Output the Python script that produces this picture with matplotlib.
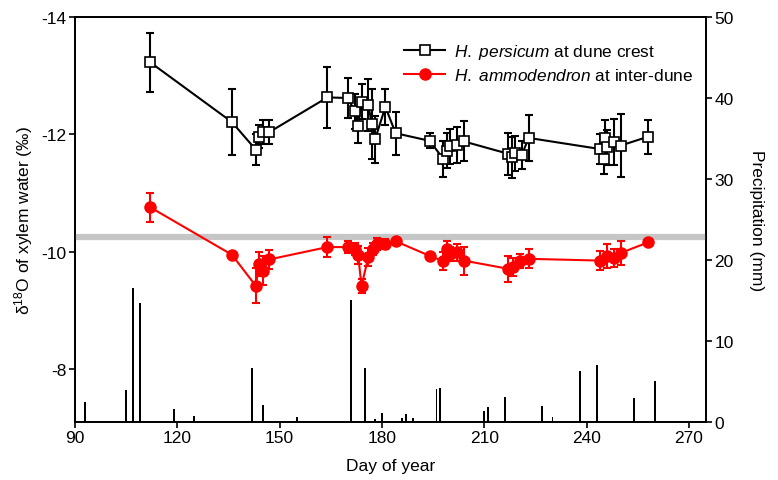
import matplotlib
matplotlib.use("Agg")
import matplotlib.pyplot as plt
import numpy as np

plt.rcParams['font.family'] = ['Liberation Sans', 'DejaVu Sans']
plt.rcParams['mathtext.fontset'] = 'custom'
plt.rcParams['mathtext.rm'] = 'Liberation Sans'
plt.rcParams['mathtext.it'] = 'Liberation Sans:italic'
plt.rcParams['mathtext.bf'] = 'Liberation Sans:bold'

# H. persicum at dune crest
hp_day = [112, 136, 143, 144, 145, 147, 164, 170, 172, 173, 174, 176, 177, 178,
          181, 184, 194, 198, 199, 200, 202, 204, 217, 218, 219, 221, 223,
          244, 245, 245.5, 246, 248, 250, 258]
hp_d18o = [-13.23, -12.21, -11.74, -11.96, -12.04, -12.04, -12.63, -12.62, -12.39, -12.15,
           -12.56, -12.50, -12.18, -11.92, -12.47, -12.02, -11.89, -11.58, -11.72, -11.80,
           -11.82, -11.88, -11.67, -11.61, -11.68, -11.65, -11.94, -11.75, -11.58, -11.94,
           -11.78, -11.87, -11.81, -11.96]
hp_err = [0.50, 0.56, 0.26, 0.2, 0.2, 0.2, 0.52, 0.34, 0.3, 0.3, 0.3, 0.45, 0.6, 0.4,
          0.31, 0.37, 0.13, 0.3, 0.3, 0.3, 0.3, 0.34, 0.36, 0.35, 0.3, 0.24, 0.39,
          0.26, 0.25, 0.3, 0.3, 0.39, 0.53, 0.29]

# H. ammodendron at inter-dune
ha_day = [112, 136, 143, 144, 145, 147, 164, 170, 172, 173, 174, 176, 177.5, 178.5,
          181, 184, 194, 198, 199, 200, 202, 204, 217, 218.5, 220.5, 223,
          244, 246, 248, 250, 258]
ha_d18o = [-10.76, -9.95, -9.42, -9.79, -9.68, -9.87, -10.08, -10.08, -10.05, -9.95,
           -9.42, -9.91, -10.05, -10.13, -10.13, -10.18, -9.93, -9.84, -10.04, -9.96,
           -9.99, -9.85, -9.71, -9.74, -9.85, -9.88, -9.85, -9.93, -9.89, -9.98, -10.16]
ha_err = [0.25, 0.05, 0.3, 0.2, 0.25, 0.16, 0.17, 0.1, 0.1, 0.15, 0.12, 0.15, 0.1, 0.1,
          0.08, 0.05, 0.05, 0.15, 0.15, 0.12, 0.15, 0.24, 0.22, 0.15, 0.12, 0.16,
          0.16, 0.2, 0.15, 0.2, 0.05]

# Reference line (grey band)
ref_d18o = -10.26

# Precipitation (mm)
pr_day = [93, 105, 107, 109, 119, 125, 142, 145, 155, 171, 175, 178, 180, 186, 187, 189,
          193, 196, 197, 210, 211, 216, 221, 227, 230, 238, 243, 254, 260]
pr_mm = [2.5, 3.9, 16.5, 14.7, 1.6, 0.8, 6.7, 2.1, 0.6, 15.1, 6.7, 0.4, 1.1, 0.5, 0.95, 0.5,
         0.1, 4.1, 4.2, 1.4, 1.85, 3.1, 0.1, 2.0, 0.6, 6.3, 7.0, 3.0, 5.1]

fig = plt.figure(figsize=(7.78, 4.81), dpi=100)
ax1 = fig.add_axes([75/778, 58/481, 631/778, 405/481])
ax2 = ax1.twinx()
ax1.set_zorder(ax2.get_zorder() + 1)
ax1.patch.set_visible(False)

# precipitation bars
ax2.bar(pr_day, pr_mm, width=0.55, color='black', zorder=2)
ax2.set_ylim(0, 50)
ax2.set_yticks([0, 10, 20, 30, 40, 50])

# grey band
ax1.axhline(ref_d18o, color='#c6c6c6', lw=4.5, zorder=1)

# series
ax1.errorbar(hp_day, hp_d18o, yerr=hp_err, fmt='none', ecolor='black', elinewidth=1.5,
             capsize=2.6, capthick=1.5, zorder=3)
l1, = ax1.plot(hp_day, hp_d18o, '-', color='black', lw=1.5, marker='s', markersize=7,
               markerfacecolor='white', markeredgecolor='black', markeredgewidth=1.2, zorder=4,
               label=r'$\mathit{H.}$ $\mathit{persicum}$ at dune crest')
ax1.errorbar(ha_day, ha_d18o, yerr=ha_err, fmt='none', ecolor='red', elinewidth=1.5,
             capsize=2.6, capthick=1.5, zorder=3)
l2, = ax1.plot(ha_day, ha_d18o, '-', color='red', lw=1.5, marker='o', markersize=8,
               markerfacecolor='red', markeredgecolor='red', zorder=4,
               label=r'$\mathit{H.}$ $\mathit{ammodendron}$ at inter-dune')

ax1.set_xlim(90, 275)
ax1.set_xticks([90, 120, 150, 180, 210, 240, 270])
ax1.set_ylim(-7.1, -14)
ax1.set_yticks([-8, -10, -12, -14])
ax1.set_yticklabels(['-8', '-10', '-12', '-14'])

for ax in (ax1, ax2):
    ax.tick_params(direction='out', length=4, width=1.2, labelsize=12.5, pad=2)
    for s in ax.spines.values():
        s.set_linewidth(1.3)

ax1.set_xlabel('Day of year', fontsize=12.5, labelpad=9)
ax1.set_ylabel(r'δ$^{18}$O of xylem water (‰)', fontsize=12.5, labelpad=5)
ax2.set_ylabel('Precipitation (mm)', fontsize=12.5, rotation=270, labelpad=22)

leg = ax1.legend(handles=[l1, l2], loc='upper left', bbox_to_anchor=(0.497, 0.976),
                 frameon=False, fontsize=12.4, handlelength=2.4, handletextpad=0.5,
                 labelspacing=0.35, borderpad=0.4)

fig.savefig('out.png', dpi=100)
